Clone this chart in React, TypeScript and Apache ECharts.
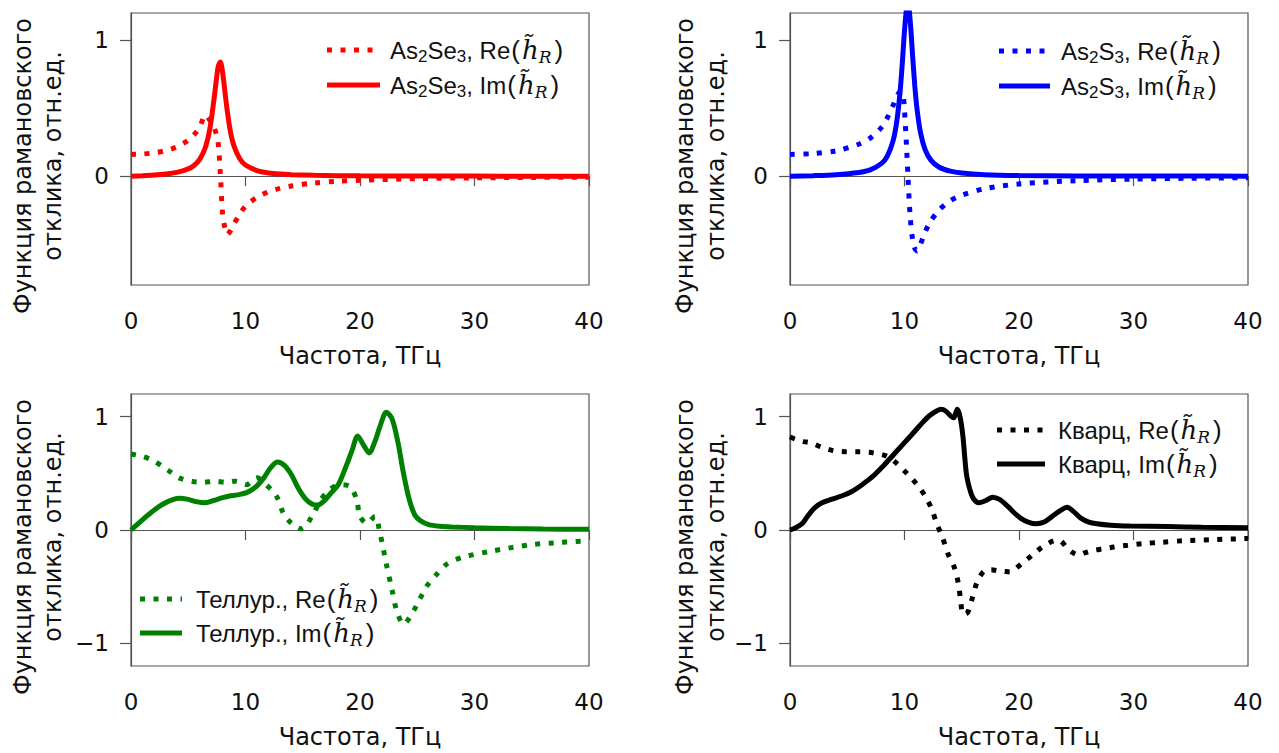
import React, { useEffect, useRef } from "react";
import * as echarts from "echarts";

// ---- As2Se3 ----
const seFreq = [0, 1, 2, 3, 4, 5, 5.5, 6, 6.5, 6.9, 7.3, 7.6, 7.8, 8.0, 8.2, 8.4, 8.7, 9, 9.5, 10, 11, 12, 13, 14, 16, 18, 20, 25, 30, 35, 40];
const seRe = [0.16, 0.163, 0.172, 0.188, 0.215, 0.265, 0.305, 0.36, 0.45, 0.41, 0.35, 0.25, 0.02, -0.28, -0.38, -0.43, -0.4, -0.35, -0.28, -0.22, -0.155, -0.115, -0.09, -0.072, -0.05, -0.038, -0.03, -0.018, -0.012, -0.009, -0.007];
const seIm = [0, 0.004, 0.009, 0.016, 0.028, 0.054, 0.079, 0.124, 0.213, 0.355, 0.6, 0.8, 0.84, 0.764, 0.625, 0.484, 0.32, 0.221, 0.128, 0.082, 0.041, 0.024, 0.0155, 0.011, 0.0066, 0.0041, 0.0025, 0.0012, 0.0007, 0.0004, 0.0003];

// ---- As2S3 ----
const sFreq = [0, 2, 4, 6, 7, 8, 8.5, 9, 9.3, 9.6, 9.8, 10, 10.2, 10.3, 10.5, 10.7, 10.9, 11.1, 11.4, 11.8, 12.3, 13, 14, 15, 17, 20, 25, 30, 35, 40];
const sRe = [0.16, 0.166, 0.186, 0.235, 0.28, 0.36, 0.43, 0.52, 0.58, 0.62, 0.62, 0.48, 0.18, 0.0, -0.3, -0.46, -0.53, -0.55, -0.5, -0.41, -0.33, -0.25, -0.18, -0.14, -0.092, -0.057, -0.033, -0.021, -0.015, -0.011];
const sIm = [0, 0.004, 0.011, 0.027, 0.046, 0.094, 0.148, 0.26, 0.388, 0.607, 0.82, 1.07, 1.25, 1.27, 1.14, 0.896, 0.664, 0.49, 0.319, 0.195, 0.118, 0.068, 0.037, 0.023, 0.011, 0.005, 0.002, 0.001, 0.0007, 0.0005];

// ---- Tellurite ----
const telReFreq = [0, 1, 2, 3.2, 4.2, 5.3, 6.3, 7.3, 8.3, 9.1, 10.1, 11.0, 11.8, 12.7, 13.3, 14, 14.9, 15.8, 16.6, 17.4, 18.2, 19.1, 19.7, 20.0, 20.6, 21.3, 21.75, 22.3, 22.8, 23.2, 23.8, 24.7, 25.8, 26.7, 27.6, 29, 31.3, 34.9, 37.5, 40];
const telRe = [0.67, 0.65, 0.61, 0.53, 0.46, 0.43, 0.42, 0.43, 0.42, 0.43, 0.4, 0.46, 0.4, 0.3, 0.15, 0.06, 0.01, 0.12, 0.27, 0.36, 0.4, 0.385, 0.27, 0.12, 0.06, 0.12, -0.03, -0.3, -0.53, -0.71, -0.83, -0.71, -0.5, -0.39, -0.3, -0.24, -0.19, -0.13, -0.11, -0.095];
const telImFreq = [0, 1, 1.7, 2.5, 3.3, 4.2, 5, 5.7, 6.4, 7.2, 8, 8.6, 9.3, 10.1, 10.9, 11.6, 12.2, 12.8, 13.4, 14, 14.6, 15.2, 15.8, 16.3, 16.9, 17.5, 18.1, 18.7, 19.3, 19.8, 20.3, 20.8, 21.3, 21.8, 22.3, 22.8, 23.3, 23.8, 24.3, 24.8, 25.3, 26, 27, 28, 30, 33, 36, 40];
const telIm = [0, 0.09, 0.15, 0.21, 0.255, 0.28, 0.27, 0.25, 0.24, 0.26, 0.285, 0.3, 0.31, 0.33, 0.38, 0.46, 0.55, 0.6, 0.57, 0.49, 0.37, 0.28, 0.23, 0.22, 0.26, 0.33, 0.4, 0.54, 0.7, 0.83, 0.75, 0.68, 0.78, 0.93, 1.04, 0.98, 0.78, 0.5, 0.27, 0.13, 0.08, 0.048, 0.033, 0.027, 0.02, 0.013, 0.009, 0.006];

// ---- Quartz ----
const qReFreq = [0, 0.5, 1.2, 1.8, 2.8, 3.8, 5, 6.1, 7.3, 8.5, 9.3, 10.2, 11.1, 11.8, 12.4, 12.8, 13.3, 13.8, 14.35, 14.7, 14.9, 15.1, 15.35, 15.6, 15.95, 16.3, 16.65, 17, 17.6, 18.1, 18.7, 19.2, 19.7, 20.2, 20.7, 21.3, 21.9, 22.4, 22.9, 23.3, 23.7, 24.2, 24.7, 25.2, 25.8, 26.5, 27.4, 28.3, 29.5, 30.8, 32.5, 34.3, 37, 40];
const qRe = [0.82, 0.8, 0.78, 0.77, 0.73, 0.7, 0.69, 0.69, 0.68, 0.65, 0.59, 0.5, 0.4, 0.3, 0.18, 0.06, -0.06, -0.21, -0.33, -0.47, -0.62, -0.74, -0.74, -0.71, -0.59, -0.47, -0.4, -0.36, -0.35, -0.36, -0.365, -0.37, -0.34, -0.3, -0.26, -0.21, -0.16, -0.13, -0.1, -0.09, -0.1, -0.16, -0.2, -0.22, -0.2, -0.18, -0.165, -0.15, -0.135, -0.12, -0.108, -0.095, -0.085, -0.075];
const qImFreq = [0, 0.5, 1.1, 1.6, 2.2, 2.8, 3.6, 4.5, 5.4, 6.3, 7.2, 8.1, 9, 9.9, 10.8, 11.5, 12.2, 12.8, 13.2, 13.6, 14.0, 14.3, 14.6, 14.85, 15.1, 15.4, 15.7, 16.0, 16.5, 17.1, 17.7, 18.3, 19.0, 19.6, 20.2, 20.8, 21.5, 22.2, 22.9, 23.6, 24.2, 24.8, 25.4, 26.1, 26.8, 28, 29.7, 33, 36, 40];
const qIm = [0, 0.02, 0.06, 0.13, 0.2, 0.24, 0.27, 0.3, 0.34, 0.4, 0.47, 0.56, 0.66, 0.76, 0.86, 0.94, 1.01, 1.05, 1.065, 1.05, 1.01, 0.99, 1.065, 1.0, 0.83, 0.5, 0.36, 0.28, 0.24, 0.26, 0.29, 0.27, 0.21, 0.15, 0.1, 0.07, 0.055, 0.07, 0.12, 0.17, 0.2, 0.16, 0.105, 0.07, 0.055, 0.042, 0.035, 0.03, 0.025, 0.02];

const xTicks = [0, 10, 20, 30, 40];
const yTicksTop = [0, 1];
const yTicksBottom = [-1, 0, 1];

const X_TITLE = "Частота, ТГц";
const Y_TITLE_1 = "Функция рамановского";
const Y_TITLE_2 = "отклика, отн.ед.";

const FONT = '"DejaVu Sans", sans-serif';
const LEGEND_FONT = '"Liberation Sans", Arial, sans-serif';
const SERIF = '"DejaVu Serif", serif';
const INK = "#111";
const FRAME = "#555";

const zip = (xs: number[], ys: number[]) => xs.map((x, i) => [x, ys[i]]);

// panel frames: left, top, width, height
const panels = [
  { left: 131, top: 13, width: 458, height: 272, yMin: -0.8, yMax: 1.2, yTicks: yTicksTop },
  { left: 790, top: 13, width: 458, height: 272, yMin: -0.8, yMax: 1.2, yTicks: yTicksTop },
  { left: 131, top: 394, width: 458, height: 272, yMin: -1.2, yMax: 1.2, yTicks: yTicksBottom },
  { left: 790, top: 394, width: 458, height: 272, yMin: -1.2, yMax: 1.2, yTicks: yTicksBottom },
];

const curves = [
  { panel: 0, color: "#ff0000", dotted: true, data: zip(seFreq, seRe) },
  { panel: 0, color: "#ff0000", dotted: false, data: zip(seFreq, seIm) },
  { panel: 1, color: "#0000ff", dotted: true, data: zip(sFreq, sRe) },
  { panel: 1, color: "#0000ff", dotted: false, data: zip(sFreq, sIm) },
  { panel: 2, color: "#008000", dotted: true, data: zip(telReFreq, telRe) },
  { panel: 2, color: "#008000", dotted: false, data: zip(telImFreq, telIm) },
  { panel: 3, color: "#000000", dotted: true, data: zip(qReFreq, qRe) },
  { panel: 3, color: "#000000", dotted: false, data: zip(qImFreq, qIm) },
];

// rich-text pieces of the legend labels: plain text, subscripts, brackets, the math h and R
const legendRich = {
  n: { fontSize: 24, fontFamily: LEGEND_FONT, fill: INK, lineHeight: 30 },
  s: { fontSize: 17, fontFamily: LEGEND_FONT, fill: INK, lineHeight: 18, verticalAlign: "bottom" },
  p: { fontSize: 26, fontFamily: LEGEND_FONT, fill: INK, lineHeight: 30, padding: [0, 1, 0, 1] },
  h: { fontSize: 26, fontFamily: SERIF, fontStyle: "italic", fill: INK, lineHeight: 30, padding: [0, 0, 0, 1] },
  r: { fontSize: 17, fontFamily: SERIF, fontStyle: "italic", fill: INK, lineHeight: 18, verticalAlign: "bottom", padding: [0, 2, 0, 0] },
};

const hr = "{p|(}{h|h\u0303}{r|R}{p|)}";
const legends = [
  { sx0: 327, sx1: 380, tx: 390, y: 50, color: "#ff0000", dotted: true, text: `{n|As}{s|2}{n|Se}{s|3}{n|, Re}${hr}` },
  { sx0: 327, sx1: 380, tx: 390, y: 85, color: "#ff0000", dotted: false, text: `{n|As}{s|2}{n|Se}{s|3}{n|, Im}${hr}` },
  { sx0: 999, sx1: 1050, tx: 1061, y: 51, color: "#0000ff", dotted: true, text: `{n|As}{s|2}{n|S}{s|3}{n|, Re}${hr}` },
  { sx0: 999, sx1: 1050, tx: 1061, y: 86, color: "#0000ff", dotted: false, text: `{n|As}{s|2}{n|S}{s|3}{n|, Im}${hr}` },
  { sx0: 140, sx1: 182, tx: 196, y: 599, color: "#008000", dotted: true, text: `{n|Теллур., Re}${hr}` },
  { sx0: 140, sx1: 182, tx: 196, y: 633, color: "#008000", dotted: false, text: `{n|Теллур., Im}${hr}` },
  { sx0: 997, sx1: 1045, tx: 1058, y: 430, color: "#000000", dotted: true, text: `{n|Кварц, Re}${hr}` },
  { sx0: 997, sx1: 1045, tx: 1058, y: 464, color: "#000000", dotted: false, text: `{n|Кварц, Im}${hr}` },
];

const yTitlePos = [
  { x1: 23, x2: 53, y1: 166, y2: 156 },
  { x1: 685, x2: 716, y1: 166, y2: 156 },
  { x1: 23, x2: 53, y1: 547, y2: 537 },
  { x1: 685, x2: 716, y1: 547, y2: 537 },
];

const minus = (v: number) => (v < 0 ? "\u2212" + Math.abs(v) : String(v));

export default function App() {
  const ref = useRef<HTMLDivElement>(null);

  useEffect(() => {
    if (!ref.current) return;
    const chart = echarts.init(ref.current, undefined, { renderer: "svg" });

    const graphic: any[] = [];
    yTitlePos.forEach((p) => {
      graphic.push({
        type: "text", x: p.x1, y: p.y1, rotation: Math.PI / 2,
        style: { text: Y_TITLE_1, fontSize: 24, fontFamily: FONT, fill: INK, align: "center", verticalAlign: "middle" },
      });
      graphic.push({
        type: "text", x: p.x2, y: p.y2, rotation: Math.PI / 2,
        style: { text: Y_TITLE_2, fontSize: 24, fontFamily: FONT, fill: INK, align: "center", verticalAlign: "middle" },
      });
    });
    legends.forEach((l) => {
      graphic.push({
        type: "line",
        shape: { x1: l.sx0, y1: l.y, x2: l.sx1, y2: l.y },
        style: { stroke: l.color, lineWidth: 5, lineDash: l.dotted ? [5, 8.5] : null, lineCap: "butt" },
      });
      graphic.push({
        type: "text", x: l.tx, y: l.y,
        style: { text: l.text, rich: legendRich, align: "left", verticalAlign: "middle", fontSize: 24, fontFamily: LEGEND_FONT, fill: INK },
      });
    });

    chart.setOption({
      animation: false,
      backgroundColor: "#ffffff",
      grid: panels.map((p) => ({
        left: p.left, top: p.top, width: p.width, height: p.height,
        show: true, borderColor: FRAME, borderWidth: 1.2, backgroundColor: "transparent",
      })),
      xAxis: panels.map((_, i) => ({
        type: "value", gridIndex: i, min: 0, max: 40, interval: 10,
        axisLine: { show: true, lineStyle: { color: FRAME, width: 1.2 } },
        axisTick: { show: true, length: 10, lineStyle: { color: FRAME, width: 1.2 }, customValues: xTicks },
        axisLabel: { fontSize: 23, color: INK, fontFamily: FONT, margin: 24, customValues: xTicks },
        splitLine: { show: false },
        name: X_TITLE, nameLocation: "middle", nameGap: 59,
        nameTextStyle: { fontSize: 24, color: INK, fontFamily: FONT },
      })),
      yAxis: panels.map((p, i) => ({
        type: "value", gridIndex: i, min: p.yMin, max: p.yMax,
        axisLine: { show: true, lineStyle: { color: FRAME, width: 1.2 } },
        axisTick: { show: true, length: 11, lineStyle: { color: FRAME, width: 1.2 }, customValues: p.yTicks },
        axisLabel: { fontSize: 23, color: INK, fontFamily: FONT, margin: 22, customValues: p.yTicks, formatter: minus },
        splitLine: { show: false },
      })),
      series: curves.map((c) => ({
        type: "line", xAxisIndex: c.panel, yAxisIndex: c.panel,
        data: c.data, symbol: "none", showSymbol: false, smooth: 0.3, clip: true,
        lineStyle: { color: c.color, width: 5, type: c.dotted ? [5, 8.5] : "solid", cap: "butt" },
        itemStyle: { color: c.color },
      })),
      graphic,
    });

    return () => chart.dispose();
  }, []);

  return (
    <div
      ref={ref}
      style={{ position: "fixed", left: 0, top: 0, width: 1279, height: 753, background: "#fff" }}
    />
  );
}
